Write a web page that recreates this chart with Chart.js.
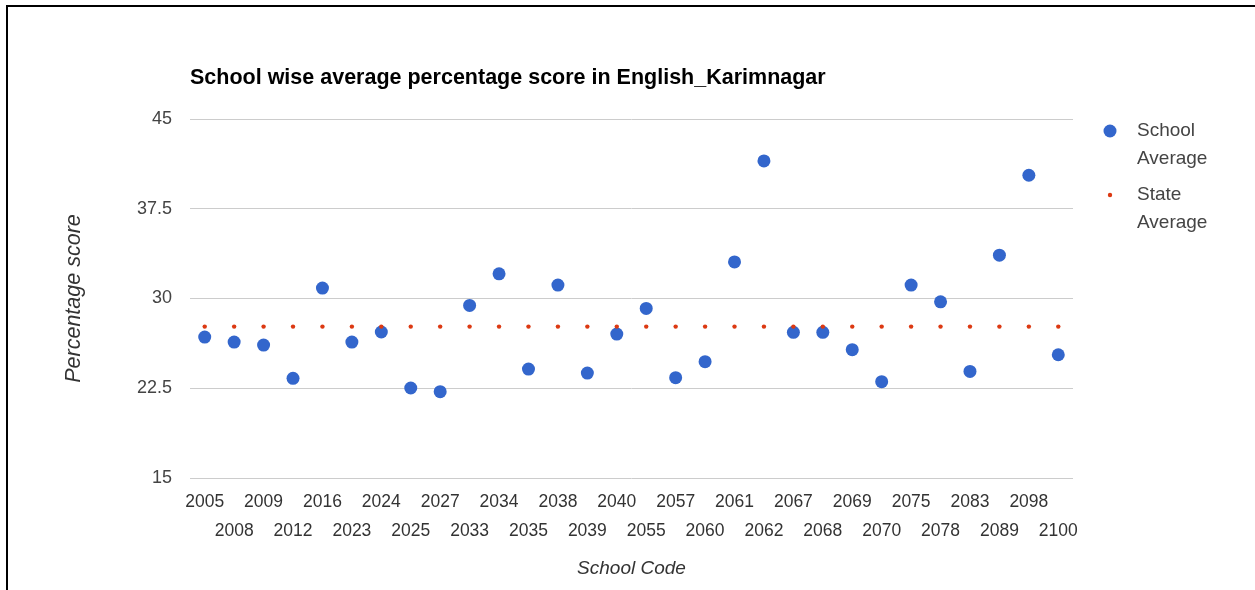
<!DOCTYPE html>
<html>
<head>
<meta charset="utf-8">
<script src="https://cdn.jsdelivr.net/npm/chart.js@4"></script>
<style>
    html, body { margin: 0; padding: 0; background: #fff; }
    #wrap { position: relative; width: 1255px; height: 590px; overflow: hidden; }
    #frame { position: absolute; left: 6px; top: 5px; right: -10px; bottom: -10px; border-top: 2px solid #000; border-left: 2px solid #000; pointer-events: none; }
    canvas { position: absolute; left: 0; top: 0; }
</style>
</head>
<body>
<div id="wrap">
    <canvas id="scoreChart" width="1255" height="590"></canvas>
    <div id="frame"></div>
</div>
<script>
const chartTitle = 'School wise average percentage score in English_Karimnagar';

const schoolCodes = ['2005', '2008', '2009', '2012', '2016', '2023', '2024', '2025', '2027', '2033',
    '2034', '2035', '2038', '2039', '2040', '2055', '2057', '2060', '2061', '2062',
    '2067', '2068', '2069', '2070', '2075', '2078', '2083', '2089', '2098', '2100'];

const schoolAverage = [26.78, 26.36, 26.11, 23.33, 30.87, 26.36, 27.2, 22.52, 22.21, 29.42,
    32.06, 24.1, 31.12, 23.77, 27.03, 29.17, 23.38, 24.72, 33.06, 41.5,
    27.17, 27.17, 25.72, 23.05, 31.12, 29.72, 23.91, 33.62, 40.3, 25.3];

const stateAverage = [27.65, 27.65, 27.65, 27.65, 27.65, 27.65, 27.65, 27.65, 27.65, 27.65,
    27.65, 27.65, 27.65, 27.65, 27.65, 27.65, 27.65, 27.65, 27.65, 27.65,
    27.65, 27.65, 27.65, 27.65, 27.65, 27.65, 27.65, 27.65, 27.65, 27.65];

const yTicks = [15, 22.5, 30, 37.5, 45];

const legendLines = [['School', 'Average'], ['State', 'Average']];

const FONT = "'Liberation Sans', Arial, sans-serif";

// title and two-line legend are painted by hand, chart.js can't wrap legend text
const extrasPlugin = {
    id: 'extras',
    afterDraw(chart) {
        const ctx = chart.ctx;
        const area = chart.chartArea;
        ctx.save();
        ctx.fillStyle = '#000';
        ctx.font = 'bold 21.5px ' + FONT;
        ctx.textAlign = 'left';
        ctx.textBaseline = 'alphabetic';
        ctx.fillText(chartTitle, area.left, 84);

        const markX = area.right + 37;
        const textX = area.right + 64;
        let y = 131;
        chart.data.datasets.forEach(function (ds, i) {
            ctx.beginPath();
            ctx.fillStyle = ds.backgroundColor;
            ctx.arc(markX, y, ds.pointRadius, 0, Math.PI * 2);
            ctx.fill();
            ctx.fillStyle = '#444';
            ctx.font = '19px ' + FONT;
            ctx.textBaseline = 'middle';
            legendLines[i].forEach(function (line, j) {
                ctx.fillText(line, textX, y + j * 28);
            });
            y += 64;
        });
        ctx.restore();
    }
};

const ctx = document.getElementById('scoreChart');

new Chart(ctx, {
    type: 'line',
    data: {
        labels: schoolCodes,
        datasets: [{
            label: 'School Average',
            data: schoolAverage,
            showLine: false,
            backgroundColor: '#3366cc',
            borderColor: '#3366cc',
            pointRadius: 6.5,
            pointBorderWidth: 0,
            order: 1
        }, {
            label: 'State Average',
            data: stateAverage,
            showLine: false,
            backgroundColor: '#dc3912',
            borderColor: '#dc3912',
            pointRadius: 2.2,
            pointBorderWidth: 0,
            order: 0
        }]
    },
    options: {
        responsive: false,
        animation: false,
        events: [],
        layout: {
            padding: { left: 6, right: 182, top: 119, bottom: 0 }
        },
        plugins: {
            legend: { display: false },
            title: { display: false },
            tooltip: { enabled: false }
        },
        scales: {
            x: {
                offset: true,
                afterFit: function (scale) { scale.height = 112; },
                grid: { display: false },
                border: { display: false },
                ticks: {
                    autoSkip: false,
                    maxRotation: 0,
                    minRotation: 0,
                    padding: 1,
                    color: '#333',
                    font: { family: FONT, size: 17.5, lineHeight: 1.7 },
                    callback: function (value, index) {
                        const code = this.getLabelForValue(value);
                        return index % 2 === 0 ? code : ['', code];
                    }
                },
                title: {
                    display: true,
                    text: 'School Code',
                    color: '#333',
                    font: { family: FONT, size: 19, style: 'italic' },
                    padding: { top: 0, bottom: 10 }
                }
            },
            y: {
                min: 15,
                max: 45,
                afterFit: function (scale) { scale.width = 184; },
                afterBuildTicks: function (scale) {
                    scale.ticks = yTicks.map(function (v) { return { value: v }; });
                },
                grid: { color: '#cccccc', drawTicks: false, lineWidth: 1 },
                border: { display: false },
                ticks: {
                    padding: 18,
                    color: '#444',
                    font: { family: FONT, size: 18 }
                },
                title: {
                    display: true,
                    text: 'Percentage score',
                    color: '#333',
                    font: { family: FONT, size: 21.5, style: 'italic' },
                    padding: { top: 55, bottom: 0 }
                }
            }
        }
    },
    plugins: [extrasPlugin]
});
</script>
</body>
</html>
